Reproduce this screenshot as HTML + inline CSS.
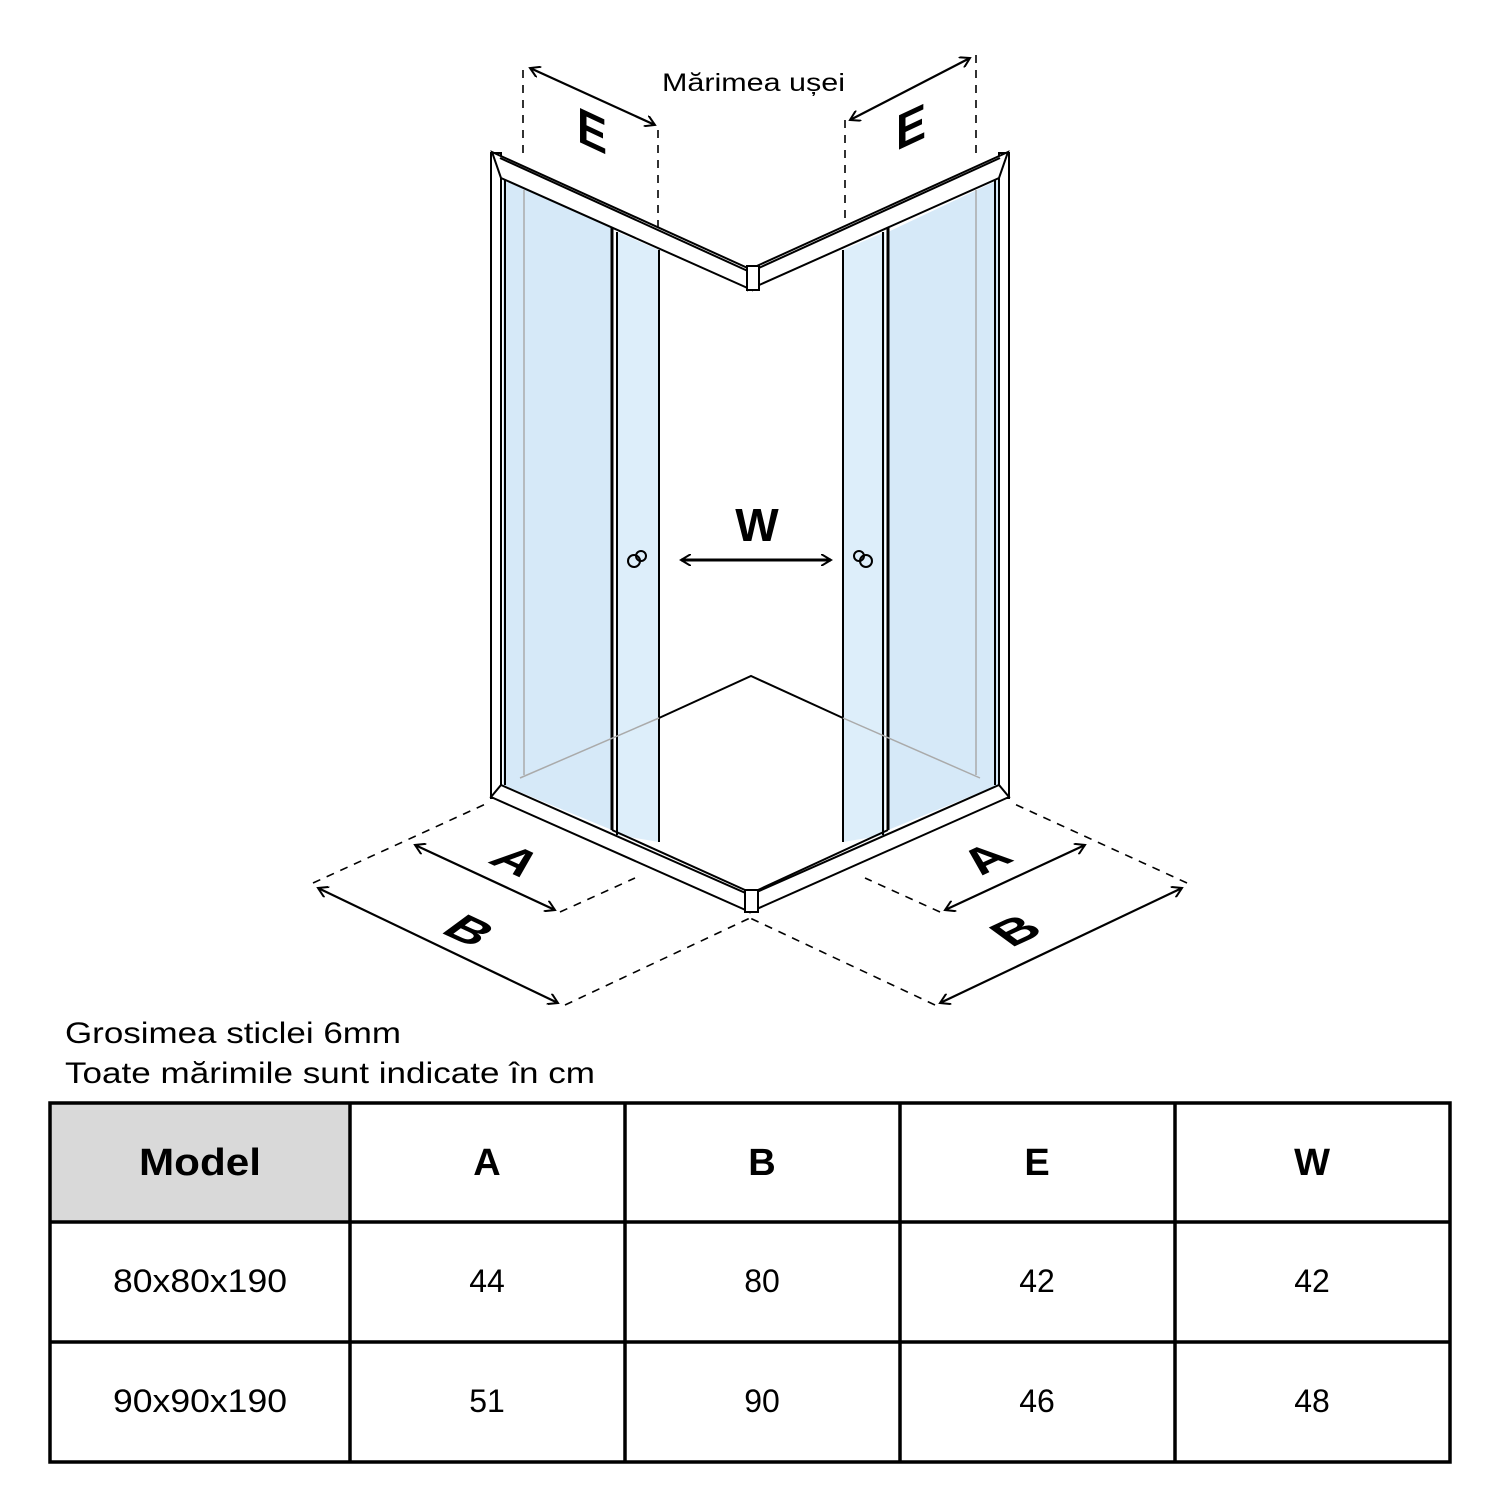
<!DOCTYPE html>
<html><head><meta charset="utf-8"><style>
body{margin:0;background:#fff}
svg{display:block}
text{font-family:"Liberation Sans",sans-serif}
</style></head><body>
<svg width="1500" height="1500" viewBox="0 0 1500 1500" xmlns="http://www.w3.org/2000/svg">
<defs>
<marker id="ah" markerWidth="12" markerHeight="12" refX="10" refY="6" orient="auto-start-reverse" markerUnits="userSpaceOnUse">
<path d="M0,0 L10,6 L0,12" fill="none" stroke="#000" stroke-width="2"/>
</marker>
</defs>
<g stroke="#000" stroke-width="2" fill="none">
<polygon points="503,180 612,228 612,830 503,785" fill="#d6e9f8" stroke="none"/>
<polygon points="617,232 659,250 659,842 617,835" fill="#ddeefa" stroke="none"/>
<polygon points="888,232 998,180 998,785 888,830" fill="#d6e9f8" stroke="none"/>
<polygon points="843,250 885,232 885,835 843,842" fill="#ddeefa" stroke="none"/>
<rect x="491" y="153" width="10" height="645" fill="#fff"/>
<line x1="505" y1="180" x2="505" y2="785"/>
<line x1="612" y1="228" x2="612" y2="830" stroke-width="3"/>
<line x1="617" y1="232" x2="617" y2="835"/>
<line x1="659" y1="250" x2="659" y2="842"/>
<line x1="524" y1="190" x2="524" y2="775" stroke="#aaa" stroke-width="1.5"/>
<rect x="999" y="153" width="10" height="645" fill="#fff"/>
<line x1="995" y1="180" x2="995" y2="785"/>
<line x1="888" y1="228" x2="888" y2="830" stroke-width="3"/>
<line x1="883" y1="232" x2="883" y2="835"/>
<line x1="843" y1="250" x2="843" y2="842"/>
<line x1="976" y1="190" x2="976" y2="775" stroke="#aaa" stroke-width="1.5"/>
<polygon points="492,152 752,270 752,290 501,178" fill="#fff"/>
<polygon points="1008,152 748,270 748,290 999,178" fill="#fff"/>
<line x1="500" y1="158" x2="750" y2="272"/>
<line x1="1000" y1="158" x2="750" y2="272"/>
<rect x="747" y="266" width="12" height="24" fill="#fff"/>
<polygon points="491,797 750,912 750,895 501,785" fill="#fff"/>
<polygon points="1009,797 750,912 750,895 999,785" fill="#fff"/>
<rect x="745" y="890" width="13" height="22" fill="#fff"/>
<line x1="612" y1="830" x2="745" y2="890"/>
<line x1="888" y1="830" x2="758" y2="890"/>
<polyline points="659,718 751,676 843,718"/>
<line x1="659" y1="718" x2="520" y2="778" stroke="#aaa" stroke-width="1.5"/>
<line x1="843" y1="718" x2="980" y2="778" stroke="#aaa" stroke-width="1.5"/>
<circle cx="634" cy="561" r="6"/><circle cx="641" cy="556" r="5"/>
<circle cx="866" cy="561" r="6"/><circle cx="859" cy="556" r="5"/>
</g>
<g stroke="#000" stroke-width="1.6" fill="none" stroke-dasharray="8,7">
<line x1="523" y1="70" x2="523" y2="155"/>
<line x1="658" y1="130" x2="658" y2="228"/>
<line x1="845" y1="120" x2="845" y2="218"/>
<line x1="976" y1="55" x2="976" y2="160"/>
<line x1="313" y1="883" x2="490" y2="802"/>
<line x1="560" y1="912" x2="635" y2="878"/>
<line x1="565" y1="1005" x2="750" y2="918"/>
<line x1="1187" y1="883" x2="1010" y2="802"/>
<line x1="940" y1="912" x2="865" y2="878"/>
<line x1="935" y1="1005" x2="750" y2="918"/>
</g>
<g stroke="#000" stroke-width="2.2" fill="none">
<line x1="530" y1="68" x2="655" y2="125" marker-start="url(#ah)" marker-end="url(#ah)"/>
<line x1="850" y1="120" x2="970" y2="58" marker-start="url(#ah)" marker-end="url(#ah)"/>
<line x1="681" y1="560" x2="831" y2="560" stroke-width="3" marker-start="url(#ah)" marker-end="url(#ah)"/>
<line x1="415" y1="845" x2="555" y2="910" marker-start="url(#ah)" marker-end="url(#ah)"/>
<line x1="318" y1="888" x2="558" y2="1003" marker-start="url(#ah)" marker-end="url(#ah)"/>
<line x1="945" y1="910" x2="1085" y2="845" marker-start="url(#ah)" marker-end="url(#ah)"/>
<line x1="940" y1="1003" x2="1182" y2="888" marker-start="url(#ah)" marker-end="url(#ah)"/>
</g>
<g font-weight="bold" font-size="50" text-anchor="middle">
<text x="0" y="18" transform="matrix(0.9,0.42,0,1,592,130)">E</text>
<text x="0" y="18" transform="matrix(0.9,-0.42,0,1,911,126)">E</text>
<text x="757" y="541" font-size="46">W</text>
<text x="0" y="18" transform="matrix(0.95,0.44,-0.75,0.55,517,860)">A</text>
<text x="0" y="18" transform="matrix(0.95,0.44,-0.75,0.55,470,930)">B</text>
<text x="0" y="18" transform="matrix(0.95,-0.44,0.75,0.55,985,858)">A</text>
<text x="0" y="18" transform="matrix(0.95,-0.44,0.75,0.55,1015,930)">B</text>
</g>
<text x="662" y="91" font-size="25" textLength="183" lengthAdjust="spacingAndGlyphs">Mărimea ușei</text>
<text x="65" y="1043" font-size="30" textLength="336" lengthAdjust="spacingAndGlyphs">Grosimea sticlei 6mm</text>
<text x="65" y="1083" font-size="30" textLength="530" lengthAdjust="spacingAndGlyphs">Toate mărimile sunt indicate în cm</text>
<rect x="51" y="1104" width="298" height="117" fill="#d9d9d9"/>
<g stroke="#000" stroke-width="3.5" fill="none">
<rect x="50" y="1103" width="1400" height="359"/>
<line x1="50" y1="1222" x2="1450" y2="1222"/>
<line x1="50" y1="1342" x2="1450" y2="1342"/>
<line x1="350" y1="1103" x2="350" y2="1462"/>
<line x1="625" y1="1103" x2="625" y2="1462"/>
<line x1="900" y1="1103" x2="900" y2="1462"/>
<line x1="1175" y1="1103" x2="1175" y2="1462"/>
</g>
<g font-weight="bold" font-size="38" text-anchor="middle">
<text x="200" y="1175" textLength="122" lengthAdjust="spacingAndGlyphs">Model</text><text x="487" y="1175">A</text><text x="762" y="1175">B</text><text x="1037" y="1175">E</text><text x="1312" y="1175">W</text>
</g>
<g font-size="32" text-anchor="middle">
<text x="200" y="1292" textLength="174" lengthAdjust="spacingAndGlyphs">80x80x190</text><text x="487" y="1292">44</text><text x="762" y="1292">80</text><text x="1037" y="1292">42</text><text x="1312" y="1292">42</text>
<text x="200" y="1412" textLength="174" lengthAdjust="spacingAndGlyphs">90x90x190</text><text x="487" y="1412">51</text><text x="762" y="1412">90</text><text x="1037" y="1412">46</text><text x="1312" y="1412">48</text>
</g>
</svg>
</body></html>
